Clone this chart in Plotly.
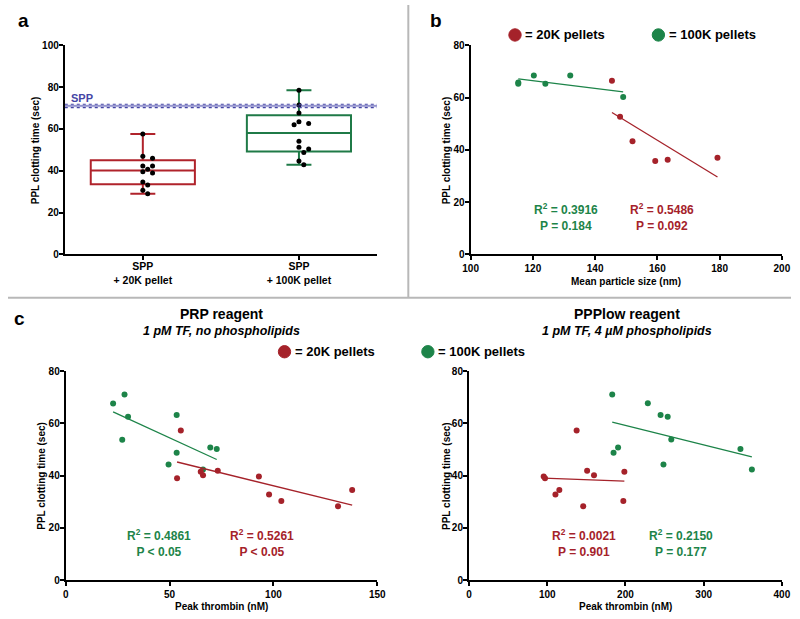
import numpy as np
import plotly.graph_objects as go

# ---------------- data ----------------
# Panel a: PPL clotting time (sec), box plots with individual points
a_categories = ["SPP<br>+ 20K pellet", "SPP<br>+ 100K pellet"]
a_20k = [57.6, 46.9, 46.0, 42.3, 42.3, 40.7, 39.5, 39.0, 34.7, 33.2, 30.7, 29.0]
a_100k = [78.5, 71.4, 67.6, 63.5, 62.6, 62.0, 54.1, 51.3, 50.4, 48.8, 44.7, 42.9]
spp_mean = 71.0
spp_low = 70.2
spp_high = 71.8

# Panel b: mean particle size (nm) vs clotting time (sec)
b_20k_size = [145.4, 148.0, 152.0, 159.3, 163.3, 179.3]
b_20k_time = [66.4, 52.7, 43.3, 35.7, 36.2, 37.0]
b_100k_size = [115.3, 115.3, 120.3, 124.0, 132.0, 149.0]
b_100k_time = [65.8, 65.3, 68.4, 65.3, 68.4, 60.2]
b_stats_20k = "R<sup>2</sup> = 0.5486<br>P = 0.092"
b_stats_100k = "R<sup>2</sup> = 0.3916<br>P = 0.184"

# Panel c left: PRP reagent, peak thrombin (nM) vs clotting time (sec)
cl_20k_thr = [55.4, 53.6, 65.0, 66.1, 73.2, 93.0, 97.9, 103.8, 131.1, 137.9]
cl_20k_time = [57.3, 39.0, 41.5, 40.2, 41.9, 39.7, 32.8, 30.3, 28.3, 34.5]
cl_100k_thr = [22.8, 28.3, 30.0, 27.2, 53.4, 53.4, 49.5, 66.1, 69.6, 72.7]
cl_100k_time = [67.6, 71.0, 62.5, 53.7, 63.2, 48.8, 44.3, 42.4, 50.8, 50.2]
cl_stats_20k = "R<sup>2</sup> = 0.5261<br>P < 0.05"
cl_stats_100k = "R<sup>2</sup> = 0.4861<br>P < 0.05"

# Panel c right: PPPlow reagent
cr_20k_thr = [137.6, 95.5, 97.2, 151.0, 159.8, 198.6, 110.5, 115.5, 146.0, 197.3]
cr_20k_time = [57.3, 39.7, 39.0, 41.9, 40.2, 41.5, 32.8, 34.5, 28.3, 30.3]
cr_100k_thr = [183.1, 228.6, 244.9, 254.0, 258.6, 190.6, 184.8, 248.6, 347.0, 361.6]
cr_100k_time = [71.0, 67.7, 63.2, 62.5, 53.8, 50.8, 48.8, 44.3, 50.2, 42.4]
cr_stats_20k = "R<sup>2</sup> = 0.0021<br>P = 0.901"
cr_stats_100k = "R<sup>2</sup> = 0.2150<br>P = 0.177"

legend_20k = "= 20K pellets"
legend_100k = "= 100K pellets"
y_title = "PPL clotting time (sec)"
x_title_b = "Mean particle size (nm)"
x_title_c = "Peak thrombin (nM)"

# ---------------- styles ----------------
W, H = 800, 619
RED = "#a5222a"
GREEN = "#1d8449"
RED_BOX = "#b0232b"
GREEN_BOX = "#1f7a47"
SPP_BLUE = "#4545a5"
FONT = "Liberation Sans, Arial, sans-serif"


def px_x(p):
    return p / W


def px_y(p):
    return 1 - p / H


def axis_style(**kw):
    d = dict(showline=True, linecolor="black", linewidth=2, ticks="outside",
             ticklen=4, tickwidth=2, tickcolor="black", showgrid=False,
             zeroline=False, mirror=False, ticklabeloverflow="allow",
             tickfont=dict(family=FONT, size=10, color="black", weight="bold"))
    d.update(kw)
    return d


def beeswarm(values, unit_px_y, unit_px_x, diam=5.5):
    order = np.argsort(values)[::-1]
    placed = []
    offs = np.zeros(len(values))
    cands = [0, 1, -1, 2, -2, 3, -3]
    for i in order:
        v = values[i]
        for c in cands:
            xo = c * diam * 0.9
            ok = all(np.hypot(xo - px, (v - py) * unit_px_y) >= diam for px, py in placed)
            if ok:
                placed.append((xo, v))
                offs[i] = xo / unit_px_x
                break
    return offs


def fit_line(x, y):
    x = np.asarray(x, float)
    y = np.asarray(y, float)
    k, b = np.polyfit(x, y, 1)
    xs = np.array([x.min(), x.max()])
    return xs, k * xs + b


fig = go.Figure()

# ---------- Panel a ----------
a_sets = [(a_20k, RED_BOX), (a_100k, GREEN_BOX)]
for idx, (vals, col) in enumerate(a_sets):
    arr = np.asarray(vals)
    q1, med, q3 = np.quantile(arr, [0.25, 0.5, 0.75], method="weibull")
    fig.add_trace(go.Box(
        x=[idx], q1=[q1], median=[med], q3=[q3],
        lowerfence=[arr.min()], upperfence=[arr.max()],
        width=0.667, whiskerwidth=0.24, boxpoints=False,
        line=dict(color=col, width=2), fillcolor="rgba(0,0,0,0)",
        xaxis="x", yaxis="y", showlegend=False, hoverinfo="skip"))
    offs = beeswarm(arr, 213 / 100, 159)
    fig.add_trace(go.Scatter(
        x=idx + offs, y=arr, mode="markers",
        marker=dict(color="black", size=5),
        xaxis="x", yaxis="y", showlegend=False))

# SPP reference band
fig.add_shape(type="rect", xref="x", yref="y", x0=-0.5, x1=1.5, y0=spp_low, y1=spp_high,
              fillcolor="rgba(120,120,210,0.18)", line=dict(width=0), layer="below")
for yv, dash in [(spp_low, "dot"), (spp_high, "dot"), (spp_mean, "solid")]:
    fig.add_shape(type="line", xref="x", yref="y", x0=-0.5, x1=1.5, y0=yv, y1=yv,
                  line=dict(color=SPP_BLUE, width=1.1 if dash == "dot" else 0.9, dash=dash))
fig.add_annotation(x=-0.475, y=74.6, xref="x", yref="y", text="SPP", showarrow=False,
                   xanchor="left", yanchor="middle",
                   font=dict(family=FONT, size=11, color=SPP_BLUE, weight="bold"))

# ---------- Scatter panels ----------
def add_scatter(xs, ys, col, xa, ya):
    lx, ly = fit_line(xs, ys)
    fig.add_trace(go.Scatter(x=lx, y=ly, mode="lines", line=dict(color=col, width=1.3),
                             xaxis=xa, yaxis=ya, showlegend=False, hoverinfo="skip"))
    fig.add_trace(go.Scatter(x=xs, y=ys, mode="markers", marker=dict(color=col, size=6),
                             xaxis=xa, yaxis=ya, showlegend=False))


add_scatter(b_100k_size, b_100k_time, GREEN, "x2", "y2")
add_scatter(b_20k_size, b_20k_time, RED, "x2", "y2")
add_scatter(cl_100k_thr, cl_100k_time, GREEN, "x3", "y3")
add_scatter(cl_20k_thr, cl_20k_time, RED, "x3", "y3")
add_scatter(cr_100k_thr, cr_100k_time, GREEN, "x4", "y4")
add_scatter(cr_20k_thr, cr_20k_time, RED, "x4", "y4")

stat_font = lambda c: dict(family=FONT, size=12, color=c, weight="bold")
for x, y, xa, ya, txt, col in [
    (130.6, 14.5, "x2", "y2", b_stats_100k, GREEN),
    (161.4, 14.5, "x2", "y2", b_stats_20k, RED),
    (44.8, 14.2, "x3", "y3", cl_stats_100k, GREEN),
    (94.3, 14.2, "x3", "y3", cl_stats_20k, RED),
    (146.4, 14.2, "x4", "y4", cr_stats_20k, RED),
    (271.5, 14.2, "x4", "y4", cr_stats_100k, GREEN),
]:
    fig.add_annotation(x=x, y=y, xref=xa, yref=ya, text=txt, showarrow=False,
                       xanchor="center", yanchor="middle", align="center",
                       font=stat_font(col))

# ---------- Layout ----------
ystd = dict(ticklabelstandoff=-2)
fig.update_layout(
    width=W, height=H, margin=dict(l=0, r=0, t=0, b=0),
    paper_bgcolor="white", plot_bgcolor="white",
    font=dict(family=FONT, color="black"),
    xaxis=axis_style(domain=[px_x(58), px_x(377)], range=[-0.5, 1.5],
                     tickvals=[0, 1], ticktext=a_categories, anchor="y",
                     ticklabelstandoff=-3,
                     tickfont=dict(family=FONT, size=10.5, color="black", weight="bold")),
    yaxis=axis_style(domain=[px_y(254), px_y(41)], range=[0, 100], dtick=20, anchor="x", **ystd),
    xaxis2=axis_style(domain=[px_x(472.7), px_x(790.7)], range=[100, 200], dtick=20, anchor="y2"),
    yaxis2=axis_style(domain=[px_y(254), px_y(41)], range=[0, 80], dtick=20, anchor="x2", **ystd),
    xaxis3=axis_style(domain=[px_x(59), px_x(377.3)], range=[0, 150], dtick=50, anchor="y3"),
    yaxis3=axis_style(domain=[px_y(585.7), px_y(372.7)], range=[0, 80], dtick=20, anchor="x3", **ystd),
    xaxis4=axis_style(domain=[px_x(471), px_x(790.7)], range=[0, 400], dtick=100, anchor="y4"),
    yaxis4=axis_style(domain=[px_y(585.7), px_y(372.7)], range=[0, 80], dtick=20, anchor="x4", **ystd),
)

title_font = dict(family=FONT, size=10, color="black", weight="bold")
# y axis titles
for cx, cy in [(28, 147.5), (448, 147.5), (34, 479), (448, 479)]:
    fig.add_annotation(x=px_x(cx), y=px_y(cy), xref="paper", yref="paper", text=y_title,
                       showarrow=False, textangle=-90, xanchor="center", yanchor="middle",
                       font=title_font)
# x axis titles
for cx, cy, txt in [(631.7, 281, x_title_b), (218, 612, x_title_c), (631, 612, x_title_c)]:
    fig.add_annotation(x=px_x(cx), y=px_y(cy), xref="paper", yref="paper", text=txt,
                       showarrow=False, xanchor="center", yanchor="middle", font=title_font)

# Separator lines
fig.add_shape(type="line", xref="paper", yref="paper", x0=0, x1=1, y0=px_y(298), y1=px_y(298),
              line=dict(color="#b8b8b8", width=2))
fig.add_shape(type="line", xref="paper", yref="paper", x0=px_x(409), x1=px_x(409), y0=px_y(298), y1=1,
              line=dict(color="#b8b8b8", width=2))

# Panel letters
for txt, cx, cy in [("a", 16, 16), ("b", 437, 16), ("c", 12, 319)]:
    fig.add_annotation(x=px_x(cx), y=px_y(cy), xref="paper", yref="paper", text=txt,
                       showarrow=False, xanchor="center", yanchor="middle",
                       font=dict(family=FONT, size=19, color="black", weight="bold"))

# Panel c titles
for txt, sub, cx in [("PRP reagent", "1 pM TF, no phospholipids", 218),
                     ("PPPlow reagent", "1 pM TF, 4 µM phospholipids", 632)]:
    fig.add_annotation(x=px_x(cx), y=px_y(315), xref="paper", yref="paper", text=txt,
                       showarrow=False, xanchor="center", yanchor="middle",
                       font=dict(family=FONT, size=14, color="black", weight="bold"))
    fig.add_annotation(x=px_x(cx), y=px_y(332), xref="paper", yref="paper", text=sub,
                       showarrow=False, xanchor="center", yanchor="middle",
                       font=dict(family=FONT, size=12.5, color="black", weight="bold",
                                 style="italic"))

# Legend keys (circle + label)
for cx, cy, col, txt in [(518, 30.5, RED, legend_20k), (664.5, 30.5, GREEN, legend_100k),
                         (282.5, 353, RED, legend_20k), (429, 353, GREEN, legend_100k)]:
    r = 6.3
    fig.add_shape(type="circle", xref="paper", yref="paper",
                  x0=px_x(cx - r), x1=px_x(cx + r), y0=px_y(cy + r), y1=px_y(cy - r),
                  fillcolor=col, line=dict(color=col, width=1))
    fig.add_annotation(x=px_x(cx + r + 2), y=px_y(cy), xref="paper", yref="paper", text=txt,
                       showarrow=False, xanchor="left", yanchor="middle",
                       font=dict(family=FONT, size=13, color="black", weight="bold"))

fig.write_html("out.html", config={"displayModeBar": False},
               post_script="document.body.style.margin='0';document.body.style.overflow='hidden';")
